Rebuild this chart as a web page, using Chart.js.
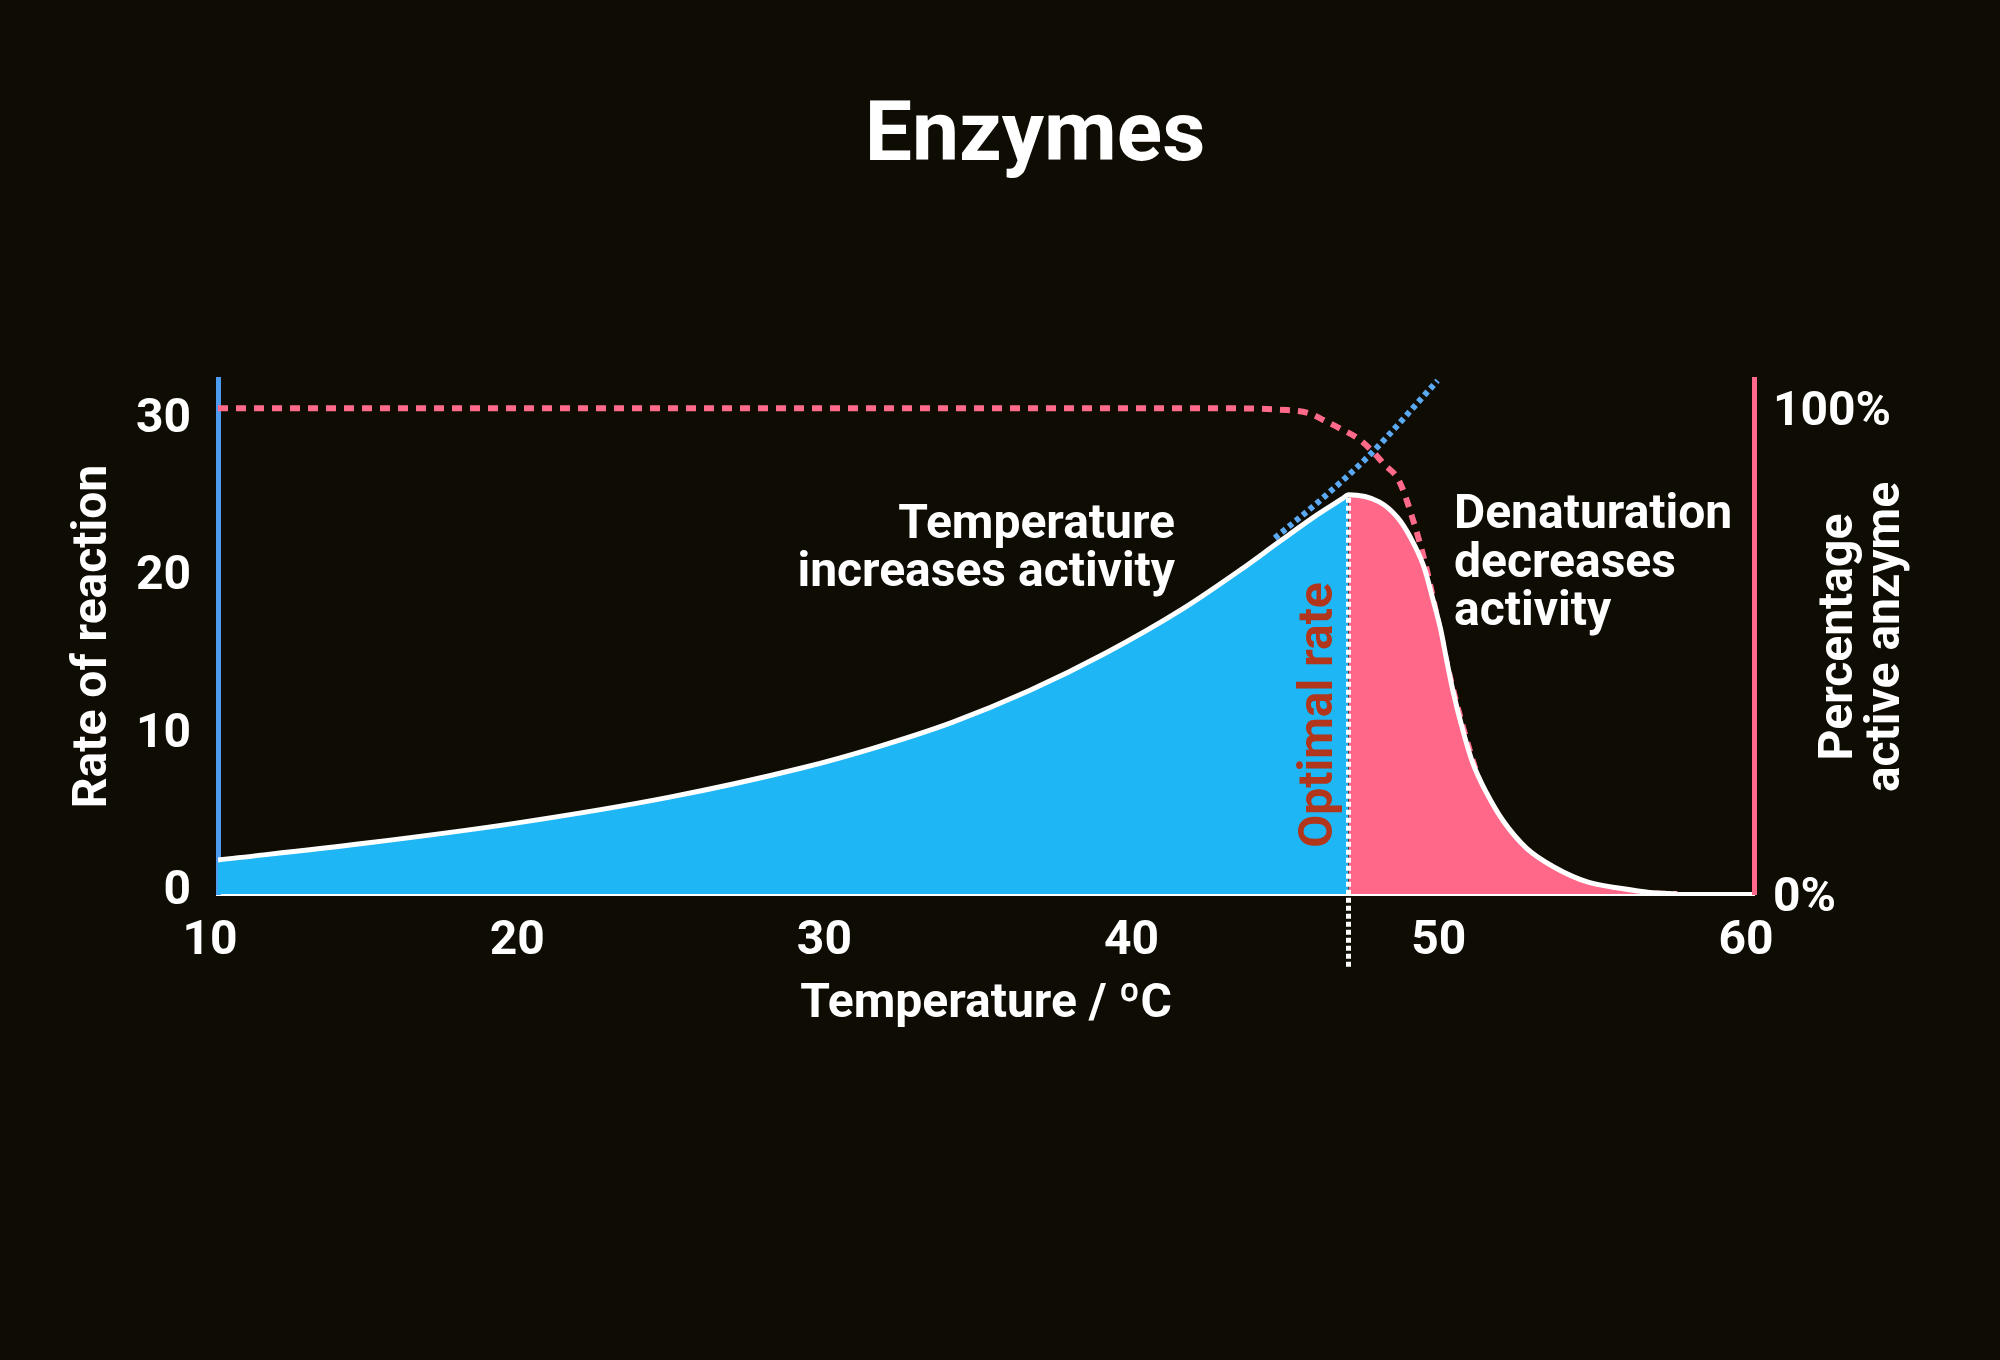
<!DOCTYPE html>
<html>
<head>
<meta charset="utf-8">
<script src="https://cdn.jsdelivr.net/npm/chart.js@4.4.1/dist/chart.umd.min.js"></script>
<style>
  html, body { margin: 0; padding: 0; background: #0e0c03; }
  #wrap { width: 2000px; height: 1360px; }
</style>
</head>
<body>
<div id="wrap"><canvas id="c"></canvas></div>
<script>
// ---- data ----
const temperatures  = [10, 14.7, 19.7, 24.7, 29, 31.4, 33.9, 36.4, 38.9, 41.4, 43.3, 44.5, 45.8, 46.6, 46.8, 47.8, 48.4, 48.8, 49.25, 49.55, 49.8, 50.0, 50.2, 50.55, 50.85, 51.3, 51.85, 52.6, 53.5, 54.6, 55.7, 56.6, 57.5];
const reactionRates = [2.16, 3.2, 4.5, 6.15, 8.0, 9.3, 10.9, 12.9, 15.3, 18.1, 20.6, 22.3, 24.1, 25.1, 25.35, 24.9, 23.9, 22.7, 20.8, 18.7, 16.8, 14.8, 12.9, 10.2, 8.3, 6.4, 4.6, 2.9, 1.7, 0.75, 0.35, 0.1, 0];

const activeTemps   = [10, 42, 44.8, 45.5, 46, 46.5, 47.1, 47.6, 47.95, 48.45, 48.9, 49.3, 49.65, 50.0, 50.5, 51.05, 51.6, 52.3, 53.2, 54.5, 56, 57.5];
const activePercent = [100, 100, 99.6, 99, 97.5, 95.9, 93.8, 91, 88.5, 85, 77, 68, 58, 47.5, 35, 23.5, 14.5, 8.5, 4.5, 1.5, 0.3, 0];

const trendTemps = [44.4, 46, 47.5, 49.7];
const trendRates = [22.6, 25.2, 27.9, 32.6];

const optimalTemp = 46.8;
const optimalRate = 25.35;

const xTicks  = [10, 20, 30, 40, 50, 60];
const yTicks  = [0, 10, 20, 30];
const y2Ticks = [0, 100];

const chartTitle = 'Enzymes';
const xTitle = 'Temperature / ºC';
const yTitle = 'Rate of reaction';
const y2Title = ['Percentage', 'active anzyme'];
const riseNote = ['Temperature', 'increases activity'];
const fallNote = ['Denaturation', 'decreases', 'activity'];
const optimalNote = 'Optimal rate';

// ---- build library structures ----
const toPts = (xs, ys) => xs.map((v, i) => ({ x: v, y: ys[i] }));
const curvePts = toPts(temperatures, reactionRates);

const FONT = 'Roboto';
const BG = '#0e0c03';
const BLUE_FILL = '#1fb6f6';
const PINK_FILL = '#ff6888';

const bgPlugin = {
  id: 'bg',
  beforeDraw(chart) {
    const { ctx, width, height } = chart;
    ctx.save();
    ctx.fillStyle = BG;
    ctx.fillRect(0, 0, width, height);
    ctx.restore();
  }
};

const notesPlugin = {
  id: 'notes',
  afterDatasetsDraw(chart) {
    const { ctx, chartArea: ca, scales: { x, y } } = chart;
    const px = x.getPixelForValue(optimalTemp);
    const py = y.getPixelForValue(optimalRate);
    ctx.save();
    // optimal dotted line
    ctx.strokeStyle = '#ffffff';
    ctx.lineWidth = 5;
    ctx.setLineDash([5, 3]);
    ctx.beginPath();
    ctx.moveTo(px, py + 3);
    ctx.lineTo(px, ca.bottom + 73);
    ctx.stroke();
    ctx.setLineDash([]);

    ctx.font = `bold 48px ${FONT}`;
    ctx.textBaseline = 'middle';
    ctx.fillStyle = '#ffffff';
    // rise note
    ctx.textAlign = 'right';
    riseNote.forEach((t, i) => ctx.fillText(t, ca.left + 957, ca.top + 147 + i * 48));
    // fall note
    ctx.textAlign = 'left';
    fallNote.forEach((t, i) => ctx.fillText(t, ca.left + 1236, ca.top + 137 + i * 48.5));
    // optimal rate (vertical)
    ctx.save();
    ctx.translate(px - 28, ca.top + 336);
    ctx.rotate(-Math.PI / 2);
    ctx.textAlign = 'center';
    ctx.fillStyle = '#b2361b';
    ctx.fillText(optimalNote, 0, 0);
    ctx.restore();
    // right axis title
    ctx.save();
    ctx.translate(ca.right + 86, ca.top + 258);
    ctx.rotate(-Math.PI / 2);
    ctx.textAlign = 'center';
    ctx.fillStyle = '#ffffff';
    y2Title.forEach((t, i) => ctx.fillText(t, 0, i * 47));
    ctx.restore();
    ctx.restore();
  }
};

const tickFont = { family: FONT, weight: 'bold', size: 48 };

new Chart(document.getElementById('c'), {
  type: 'line',
  data: {
    datasets: [
      {
        label: 'Rate of reaction',
        data: curvePts,
        borderColor: '#ffffff',
        borderWidth: 5,
        fill: false,
        pointRadius: 0,
        cubicInterpolationMode: 'monotone',
        order: 0,
        yAxisID: 'y'
      },
      {
        label: 'Extrapolated rate',
        data: toPts(trendTemps, trendRates),
        borderColor: '#5aa9f2',
        borderWidth: 6,
        borderDash: [5, 4],
        fill: false,
        pointRadius: 0,
        cubicInterpolationMode: 'monotone',
        order: 1,
        yAxisID: 'y'
      },
      {
        label: 'Activity area',
        data: curvePts,
        borderWidth: 0,
        borderColor: 'rgba(0,0,0,0)',
        backgroundColor: BLUE_FILL,
        fill: 'origin',
        pointRadius: 0,
        cubicInterpolationMode: 'monotone',
        segment: {
          backgroundColor: c => (c.p0.parsed.x >= optimalTemp ? PINK_FILL : BLUE_FILL)
        },
        order: 2,
        yAxisID: 'y'
      },
      {
        label: 'Percentage active enzyme',
        data: toPts(activeTemps, activePercent),
        borderColor: '#ff6a8a',
        borderWidth: 6,
        borderDash: [10, 8],
        fill: false,
        pointRadius: 0,
        cubicInterpolationMode: 'monotone',
        order: 3,
        yAxisID: 'y2'
      }
    ]
  },
  options: {
    responsive: true,
    maintainAspectRatio: false,
    devicePixelRatio: 1,
    animation: false,
    events: [],
    layout: { padding: { left: 70, top: 0, right: 0, bottom: 0 } },
    plugins: {
      legend: { display: false },
      tooltip: { enabled: false },
      title: {
        display: true,
        text: chartTitle,
        color: '#ffffff',
        font: { family: FONT, weight: 'bold', size: 84 },
        padding: { top: 89, bottom: 189.2 }
      }
    },
    scales: {
      x: {
        type: 'linear',
        min: 10,
        max: 60,
        afterBuildTicks: s => { s.ticks = xTicks.map(v => ({ value: v })); },
        afterFit: s => { s.height = 466; },
        grid: { display: false, drawTicks: false },
        border: { display: true, color: '#ffffff', width: 4 },
        ticks: { color: '#ffffff', font: tickFont, padding: 19, labelOffset: -8, maxRotation: 0, autoSkip: false },
        title: { display: true, text: xTitle, color: '#ffffff', font: tickFont, padding: { top: 0, bottom: 326 } }
      },
      y: {
        type: 'linear',
        position: 'left',
        min: 0,
        max: 32.7,
        afterBuildTicks: s => { s.ticks = yTicks.map(v => ({ value: v })); },
        afterFit: s => { s.width = 148; },
        grid: { display: false, drawTicks: false },
        border: { display: true, color: '#4d9bef', width: 5 },
        ticks: { color: '#ffffff', font: tickFont, padding: 27, labelOffset: -2 },
        title: { display: true, text: yTitle, color: '#ffffff', font: { family: FONT, weight: 'bold', size: 48, lineHeight: 0.8 }, padding: { top: 5, bottom: 0 } }
      },
      y2: {
        type: 'linear',
        position: 'right',
        min: 0,
        max: 106,
        afterBuildTicks: s => { s.ticks = y2Ticks.map(v => ({ value: v })); },
        afterFit: s => { s.width = 246; },
        grid: { display: false, drawTicks: false },
        border: { display: true, color: '#ff6a8c', width: 5 },
        ticks: { color: '#ffffff', font: tickFont, padding: 19, labelOffset: 5, callback: v => v + '%' }
      }
    }
  },
  plugins: [bgPlugin, notesPlugin]
});
</script>
</body>
</html>
